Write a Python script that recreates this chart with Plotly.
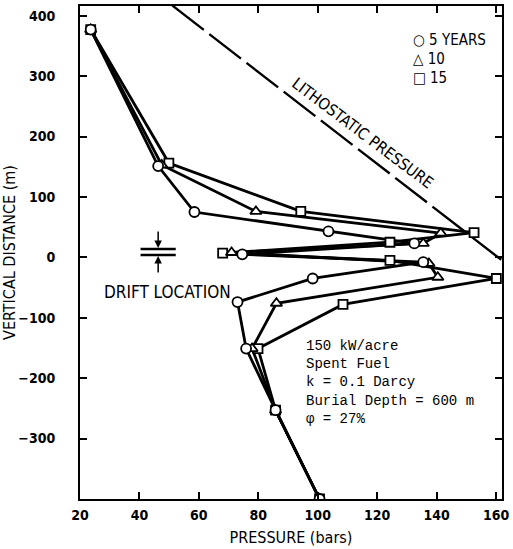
import plotly.graph_objects as go

# ---- data ----
p5 = [23.6, 46.3, 58.5, 103.6, 132.5, 74.6, 135.5, 98.3, 73.0, 75.9, 85.8, 100.6]
d5 = [377, 151, 75, 43, 23, 5, -8, -35, -74, -151, -253, -400]

p10 = [23.6, 47.5, 79.2, 141.4, 135.5, 71.0, 137.4, 140.4, 86.1, 77.9, 85.8, 100.6]
d10 = [377, 153, 76, 40, 23, 8, -10, -33, -76, -151, -253, -400]

p15 = [23.6, 49.9, 94.3, 152.6, 124.3, 68.0, 124.3, 160.1, 108.5, 79.9, 85.8, 100.6]
d15 = [377, 156, 76, 41, 25, 7, -5, -35, -78, -151, -253, -400]

litho_p = [51.0, 162.0]
litho_d = [417, -5]

x_ticks = [20, 40, 60, 80, 100, 120, 140, 160]
y_ticks = [-300, -200, -100, 0, 100, 200, 300, 400]

X0, X1 = 20, 162
Y0, Y1 = -400, 416
L, R, T, B = 77, 509, 6, 499


def dx(px):
    return X0 + (px - L) / (R - L) * (X1 - X0)


def dy(py):
    return Y1 - (py - T) / (B - T) * (Y1 - Y0)


LBL = "Liberation Sans Narrow, DejaVu Sans Condensed, Arial Narrow, sans-serif"
fig = go.Figure()

fig.add_trace(go.Scatter(x=litho_p, y=litho_d, mode="lines",
                         line=dict(color="black", width=2.4, dash="40px,7px"),
                         hoverinfo="skip", showlegend=False))

for p, d in [(p15, d15), (p10, d10), (p5, d5)]:
    fig.add_trace(go.Scatter(x=p, y=d, mode="lines", line=dict(color="black", width=2.8),
                             showlegend=False))
for p, d, sym, sz in [(p15, d15, "square", 9), (p10, d10, "triangle-up", 10),
                      (p5, d5, "circle", 10)]:
    fig.add_trace(go.Scatter(x=p, y=d, mode="markers",
                             marker=dict(symbol=sym, size=sz, color="white",
                                         line=dict(color="black", width=1.8)),
                             showlegend=False))

ann = []
# legend
for i, t in enumerate(["○ 5 YEARS", "△ 10", "□ 15"]):
    ann.append(dict(x=dx(416), y=dy(40 + 19 * i), xref="x", yref="y", text=t,
                    showarrow=False, xanchor="left", yanchor="middle",
                    font=dict(family=LBL, size=15, color="black")))
# lithostatic label
ann.append(dict(x=dx(367), y=dy(133), xref="x", yref="y", text="LITHOSTATIC PRESSURE",
                showarrow=False, textangle=37,
                font=dict(family=LBL, size=16, color="black")))
# drift location
ann.append(dict(x=dx(167), y=dy(292), xref="x", yref="y", text="DRIFT LOCATION",
                showarrow=False, font=dict(family=LBL, size=17, color="black")))
ann.append(dict(x=dx(157), y=dy(248), ax=dx(157), ay=dy(230), xref="x", yref="y",
                axref="x", ayref="y", text="", showarrow=True, arrowhead=2,
                arrowsize=1, arrowwidth=1.5, arrowcolor="black"))
ann.append(dict(x=dx(157), y=dy(256), ax=dx(157), ay=dy(274), xref="x", yref="y",
                axref="x", ayref="y", text="", showarrow=True, arrowhead=2,
                arrowsize=1, arrowwidth=1.5, arrowcolor="black"))
# info block
ann.append(dict(x=dx(306), y=dy(336), xref="x", yref="y",
                text="150 kW/acre<br>Spent Fuel<br>k = 0.1 Darcy<br>Burial Depth = 600 m<br>φ = 27%",
                showarrow=False, xanchor="left", yanchor="top", align="left",
                font=dict(family="Liberation Mono, Courier New, monospace", size=14,
                          color="black")))

shapes = [
    dict(type="line", xref="x", yref="y", x0=dx(139), x1=dx(175), y0=dy(249), y1=dy(249),
         line=dict(color="black", width=2.5)),
    dict(type="line", xref="x", yref="y", x0=dx(139), x1=dx(175), y0=dy(255), y1=dy(255),
         line=dict(color="black", width=2.5)),
]

fig.update_layout(
    width=513, height=549,
    margin=dict(l=L, r=513 - R, t=T, b=549 - B),
    paper_bgcolor="white", plot_bgcolor="white",
    annotations=ann, shapes=shapes, showlegend=False,
    font=dict(family=LBL, color="black"),
)
fig.update_xaxes(range=[X0, X1], tickvals=x_ticks, ticks="inside", ticklen=7, tickwidth=2,
                 tickcolor="black", showline=True, linewidth=2, linecolor="black",
                 mirror="ticks", showgrid=False, zeroline=False,
                 tickfont=dict(family=LBL, size=14, color="black", weight="bold"),
                 ticklabelstandoff=2, ticklabeloverflow="allow",
                 title=dict(text="PRESSURE (bars)", standoff=10,
                            font=dict(family=LBL, size=16, color="black")))
fig.update_yaxes(range=[Y0, Y1], tickvals=y_ticks, ticks="inside", ticklen=7, tickwidth=2,
                 tickcolor="black", showline=True, linewidth=2, linecolor="black",
                 mirror="ticks", showgrid=False, zeroline=False,
                 tickfont=dict(family=LBL, size=14, color="black", weight="bold"),
                 ticklabelstandoff=20,
                 title=dict(text="VERTICAL DISTANCE (m)", standoff=3,
                            font=dict(family=LBL, size=16, color="black")))

fig.write_html("out.html")
